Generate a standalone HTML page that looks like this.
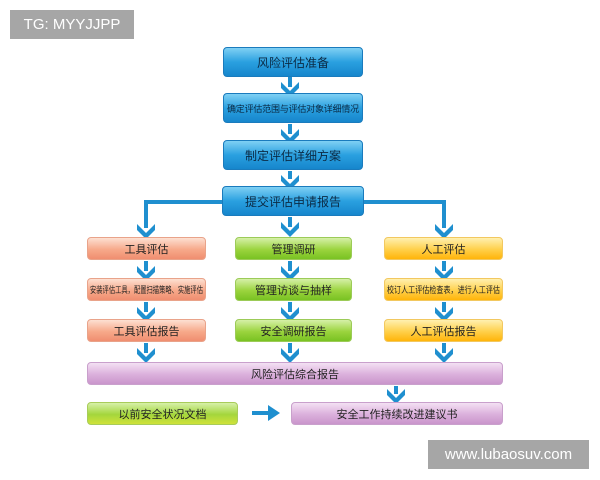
<!DOCTYPE html>
<html><head><meta charset="utf-8"><style>
body{margin:0;width:600px;height:480px;background:#fff;position:relative;overflow:hidden;font-family:"Liberation Sans","Noto Sans CJK SC",sans-serif}
.b{position:absolute;border-radius:4px;display:flex;align-items:center;justify-content:center;font-size:11px;color:#222;box-sizing:border-box;white-space:nowrap;overflow:hidden}
.bl{background:linear-gradient(#7fd0f4,#2aa0e0 50%,#1686cc);border:1px solid #1a7bbd;color:#0b2a44}
.o{background:linear-gradient(#fde0d2,#f7a98a 55%,#f08e70);border:1px solid #e9a38a}
.g{background:linear-gradient(#d6f0a8,#9bd43e 55%,#79c222);border:1px solid #9ccb58}
.y{background:linear-gradient(#fff0b0,#ffd04a 55%,#ffb40a);border:1px solid #f2c860}
.p{background:linear-gradient(#f3e0f3,#dbb0dc 55%,#c995cb);border:1px solid #c9a0cc}
.gy{background:linear-gradient(#d6f0a8,#a4d63c 55%,#cfe23a);border:1px solid #a8cc5a}
.tag{position:absolute;background:#a6a6a6;color:#fff;font-size:15px;display:flex;align-items:center;justify-content:center}
</style></head><body>
<div class="tag" style="left:10px;top:10px;width:124px;height:29px">TG: MYYJJPP</div>
<div class="tag" style="left:428px;top:440px;width:161px;height:29px">www.lubaosuv.com</div>
<svg width="600" height="480" style="position:absolute;left:0;top:0">
<g stroke="#1f8fcf" stroke-width="4" fill="none">
<path d="M222 202H146V228"/><path d="M364 202H444V228"/>
<path d="M252 413H272"/>
<path d="M290 77v10M290 124v10M290 171v8M290 217v10M146 261v10M290 261v10M444 261v10M146 302v10M290 302v10M444 302v10M146 343v10M290 343v10M444 343v10M396 386v8"/>
</g>
<g fill="#1f8fcf">
<path d="M281 82l9 9 9-9v6l-9 9-9-9z"/>
<path d="M281 129l9 9 9-9v6l-9 9-9-9z"/>
<path d="M281 175l9 9 9-9v6l-9 9-9-9z"/>
<path d="M281 222l9 9 9-9v6l-9 9-9-9z"/>
<path d="M137 224l9 9 9-9v6l-9 9-9-9z"/>
<path d="M435 224l9 9 9-9v6l-9 9-9-9z"/>
<path d="M137 266l9 9 9-9v6l-9 9-9-9z"/>
<path d="M281 266l9 9 9-9v6l-9 9-9-9z"/>
<path d="M435 266l9 9 9-9v6l-9 9-9-9z"/>
<path d="M137 307l9 9 9-9v6l-9 9-9-9z"/>
<path d="M281 307l9 9 9-9v6l-9 9-9-9z"/>
<path d="M435 307l9 9 9-9v6l-9 9-9-9z"/>
<path d="M137 348l9 9 9-9v6l-9 9-9-9z"/>
<path d="M281 348l9 9 9-9v6l-9 9-9-9z"/>
<path d="M435 348l9 9 9-9v6l-9 9-9-9z"/>
<path d="M387 389l9 9 9-9v6l-9 9-9-9z"/>
<path d="M268 405l12 8-12 8z"/>
</g>
</svg>
<div class="b bl" style="left:223px;top:47px;width:140px;height:30px;font-size:12px">风险评估准备</div>
<div class="b bl" style="left:223px;top:93px;width:140px;height:30px;font-size:9px;letter-spacing:-0.2px">确定评估范围与评估对象详细情况</div>
<div class="b bl" style="left:223px;top:140px;width:140px;height:30px;font-size:12px">制定评估详细方案</div>
<div class="b bl" style="left:222px;top:186px;width:142px;height:30px;font-size:12px">提交评估申请报告</div>
<div class="b o" style="left:87px;top:237px;width:119px;height:23px">工具评估</div>
<div class="b g" style="left:235px;top:237px;width:117px;height:23px">管理调研</div>
<div class="b y" style="left:384px;top:237px;width:119px;height:23px">人工评估</div>
<div class="b o" style="left:87px;top:278px;width:119px;height:23px"><svg width="117" height="21"><text x="58.5" y="14" text-anchor="middle" font-size="9" fill="#222" textLength="113" lengthAdjust="spacingAndGlyphs">安装评估工具，配置扫描策略、实施评估</text></svg></div>
<div class="b g" style="left:235px;top:278px;width:117px;height:23px">管理访谈与抽样</div>
<div class="b y" style="left:384px;top:278px;width:119px;height:23px"><svg width="117" height="21"><text x="58.5" y="14" text-anchor="middle" font-size="9" fill="#222" textLength="113" lengthAdjust="spacingAndGlyphs">校订人工评估检查表，进行人工评估</text></svg></div>
<div class="b o" style="left:87px;top:319px;width:119px;height:23px">工具评估报告</div>
<div class="b g" style="left:235px;top:319px;width:117px;height:23px">安全调研报告</div>
<div class="b y" style="left:384px;top:319px;width:119px;height:23px">人工评估报告</div>
<div class="b p" style="left:87px;top:362px;width:416px;height:23px">风险评估综合报告</div>
<div class="b gy" style="left:87px;top:402px;width:151px;height:23px">以前安全状况文档</div>
<div class="b p" style="left:291px;top:402px;width:212px;height:23px">安全工作持续改进建议书</div>
</body></html>
